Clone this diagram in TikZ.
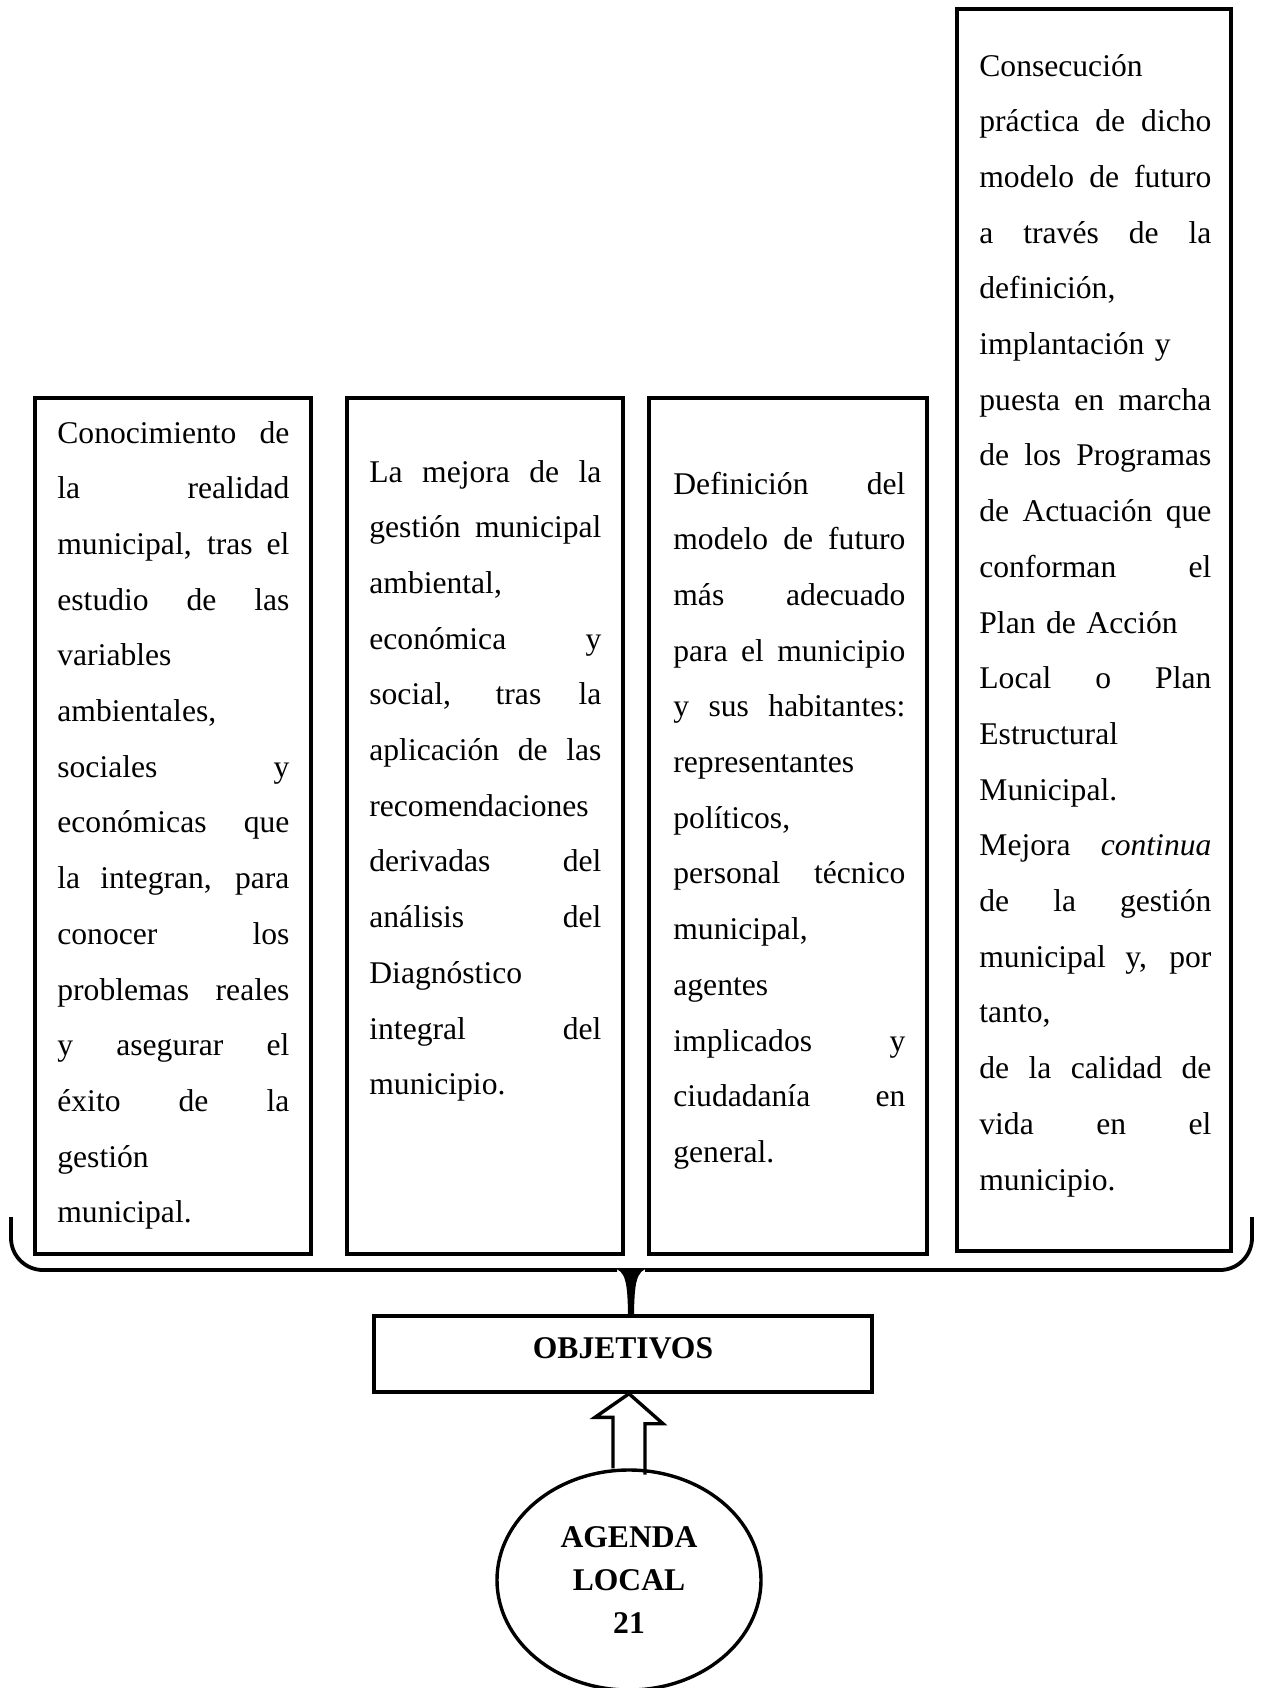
\documentclass[tikz,border=0pt]{standalone}
\usepackage{fontspec}
\setmainfont{Liberation Serif}
\usetikzlibrary{shapes.geometric,calc}
\newcommand\jl[1]{\makebox[116pt][s]{\spaceskip=0pt\xspaceskip=0pt\relax#1}}
\tikzset{
	panel/.style = {rectangle, draw=black, line width=1.7pt, inner sep=0pt,
		minimum width=138pt, minimum height=428pt},
	panel_txt/.style = {anchor=base west, inner sep=0pt, text width=116pt,
		align=left, font=\fontsize{15.8}{27.85}\selectfont},
	obj_box/.style = {rectangle, draw=black, line width=1.7pt, minimum width=249pt,
		minimum height=38pt, text depth=6pt, font=\fontsize{15.8}{19}\selectfont\bfseries},
	agenda_c/.style = {ellipse, draw=black, line width=1.7pt, inner sep=0pt,
		minimum width=132pt, minimum height=110pt, align=center,
		font=\fontsize{15.8}{21.5}\selectfont\bfseries},
	brace/.style = {line width=1.9pt, line join=round},
	fat_arrow/.style = {line width=1.7pt, line join=miter}
}
\begin{document}
\begin{tikzpicture}[x=0.5pt,y=-0.5pt]
\useasboundingbox (0,0) rectangle (1262,1688);
\node[panel] (b1) at (173,826) {};
\node[panel] (b2) at (485,826) {};
\node[panel, minimum width=139pt] (b3) at (788,826) {};
\node[panel, minimum width=137pt, minimum height=621pt] (b4) at (1094,630) {};
\node[panel_txt] (t1) at (57,443) {\jl{Conocimiento de}\\ \jl{la realidad}\\
	\jl{municipal, tras el}\\ \jl{estudio de las}\\ variables\\ ambientales,\\
	\jl{sociales y}\\ \jl{económicas que}\\ \jl{la integran, para}\\ \jl{conocer los}\\
	\jl{problemas reales}\\ \jl{y asegurar el}\\ \jl{éxito de la}\\ gestión\\ municipal.};
\node[panel_txt] (t2) at (369,482) {\jl{La mejora de la}\\ \jl{gestión municipal}\\
	ambiental,\\ \jl{económica y}\\ \jl{social, tras la}\\ \jl{aplicación de las}\\
	recomendaciones\\ \jl{derivadas del}\\ \jl{análisis del}\\ Diagnóstico\\
	\jl{integral del}\\ municipio.};
\node[panel_txt] (t3) at (673,494) {\jl{Definición del}\\ \jl{modelo de futuro}\\
	\jl{más adecuado}\\ \jl{para el municipio}\\ \jl{y sus habitantes:}\\ representantes\\
	políticos,\\ \jl{personal técnico}\\ municipal,\\ agentes\\ \jl{implicados y}\\
	\jl{ciudadanía en}\\ general.};
\node[panel_txt] (t4) at (979,76) {Consecución\\ \jl{práctica de dicho}\\
	\jl{modelo de futuro}\\ \jl{a través de la}\\ definición,\\ implantación y\\
	\jl{puesta en marcha}\\ \jl{de los Programas}\\ \jl{de Actuación que}\\
	\jl{conforman el}\\ Plan de Acción\\ \jl{Local o Plan}\\ Estructural\\ Municipal.\\
	\jl{Mejora \textit{continua}}\\ \jl{de la gestión}\\ \jl{municipal y, por}\\ tanto,\\
	\jl{de la calidad de}\\ \jl{vida en el}\\ municipio.};
\node[obj_box] (obj) at (623,1354) {OBJETIVOS};
\node[agenda_c] (agenda) at (629,1580) {AGENDA\\ LOCAL\\ 21};
\coordinate (bl) at (11,1217);
\coordinate (br) at (1252,1217);
\coordinate (cusp) at (631,1270);
\draw[brace, rounded corners=16] (bl) |- ($(cusp)+(-14,0)$);
\draw[brace, rounded corners=16] (br) |- ($(cusp)+(14,0)$);
\fill ($(cusp)+(-18,-1.9)$) .. controls ($(cusp)+(-5,0)$) and ($(cusp)+(-3.5,14)$) .. ($(cusp |- obj.north)+(-3,0)$)
	-- ($(cusp |- obj.north)+(3,0)$) .. controls ($(cusp)+(3.5,14)$) and ($(cusp)+(5,0)$) .. ($(cusp)+(18,-1.9)$) -- cycle;
\coordinate (tip) at (agenda.north |- obj.south);
\draw[fat_arrow] ($(agenda.north)+(-16,0)$) -- ++(0,-51) -- ++(-18,0) -- (tip)
	-- ++(34,30) -- ++(-18,0) -- ++(0,51);
\end{tikzpicture}
\end{document}
